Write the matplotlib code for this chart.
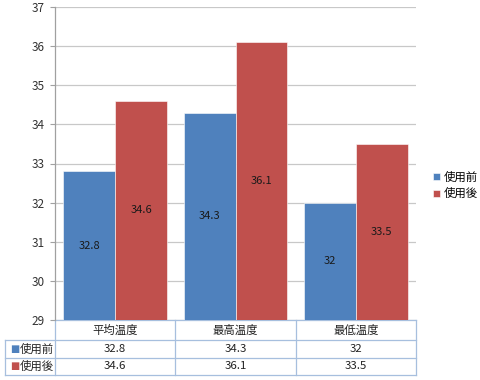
import numpy as np
import matplotlib
matplotlib.use('Agg')
from matplotlib import pyplot as plt
from matplotlib.transforms import blended_transform_factory

plt.rcParams['font.family'] = ['Noto Sans CJK JP', 'DejaVu Sans']

categories = ['平均温度', '最高温度', '最低温度']
series_names = ['使用前', '使用後']
before = [32.8, 34.3, 32]
after = [34.6, 36.1, 33.5]
value_labels = [['32.8', '34.3', '32'], ['34.6', '36.1', '33.5']]
colors = ['#4F81BD', '#C0504D']
y_ticks = [29, 30, 31, 32, 33, 34, 35, 36, 37]

fig = plt.figure(figsize=(4.8, 3.8), dpi=100)
ax = fig.add_axes([55/480, 1 - 320/380, 361/480, 313/380])

x = np.arange(len(categories))
w = 0.43
base = y_ticks[0]
for i, vals in enumerate([before, after]):
    xs = x + (i - 0.5) * w
    heights = np.array(vals) - base
    ax.bar(xs, heights, w, bottom=base, color=colors[i], label=series_names[i],
           edgecolor='white', linewidth=0.4, zorder=3)
    for xi, v, lab in zip(xs, vals, value_labels[i]):
        ax.text(xi, (base + v) / 2, lab, ha='center', va='center', fontsize=8,
                color='#1a1a1a', zorder=4)

ax.set_xlim(-0.5, 2.5)
ax.set_ylim(y_ticks[0], y_ticks[-1])
ax.set_yticks(y_ticks)
ax.set_xticks([])
ax.tick_params(axis='y', length=3.5, color='#A0A0A0', labelsize=8.5, labelcolor='#333333', pad=4)
ax.yaxis.grid(True, color='#C8C8C8', linewidth=0.9, zorder=0)
for s in ['top', 'right', 'bottom']:
    ax.spines[s].set_visible(False)
ax.spines['left'].set_color('#A0A0A0')
ax.spines['left'].set_linewidth(0.9)

# data table under the axes
line_c = '#A7BFDE'
ah = 313.0
tb = blended_transform_factory(ax.transData, ax.transAxes)
ta = ax.transAxes
y_head = -20 / ah
y_r1 = -37.5 / ah
y_r2 = -55 / ah
x_left = (5 - 55) / 361.0
lk = dict(color=line_c, linewidth=0.9, clip_on=False)
ax.plot([0, 1], [0, 0], transform=ta, **lk)
ax.plot([x_left, 1], [y_head, y_head], transform=ta, **lk)
ax.plot([x_left, 1], [y_r1, y_r1], transform=ta, **lk)
ax.plot([x_left, 1], [y_r2, y_r2], transform=ta, **lk)
ax.plot([x_left, x_left], [y_head, y_r2], transform=ta, **lk)
for edge in [-0.5, 0.5, 1.5, 2.5]:
    ax.plot([edge, edge], [0, y_r2], transform=tb, **lk)

for xi, c in zip(x, categories):
    ax.text(xi, y_head / 2, c, transform=tb, ha='center', va='center', fontsize=8.2, color='#222222')
row_mid = [(y_head + y_r1) / 2, (y_r1 + y_r2) / 2]
for r in range(2):
    ax.text(x_left + 0.014, row_mid[r], '■', transform=ta, ha='left', va='center',
            fontsize=7, color=colors[r], family=['DejaVu Sans'])
    ax.text(x_left + 0.04, row_mid[r], series_names[r], transform=ta, ha='left', va='center',
            fontsize=8.2, color='#222222')
    for xi, lab in zip(x, value_labels[r]):
        ax.text(xi, row_mid[r], lab, transform=tb, ha='center', va='center', fontsize=8.2,
                color='#222222')

ax.legend(loc='center left', bbox_to_anchor=(1.035, 0.43), frameon=False, fontsize=8.2,
          handlelength=0.6, handleheight=0.6, handletextpad=0.3, labelspacing=0.45,
          borderaxespad=0)

fig.savefig('out.png', dpi=100)
